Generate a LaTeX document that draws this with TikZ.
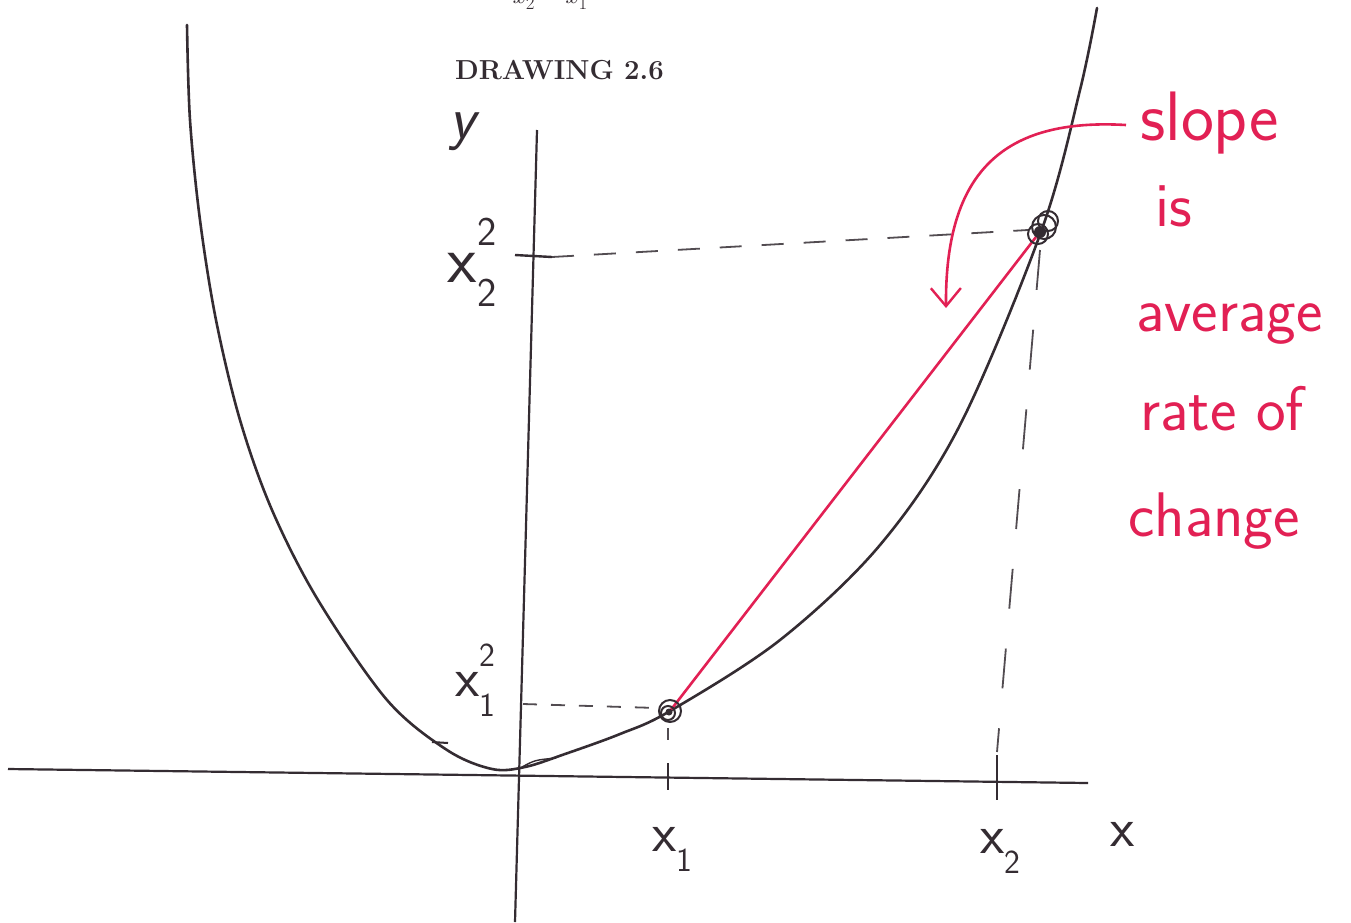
\documentclass[tikz,border=0pt]{standalone}
\usepackage{fontspec}
\usepackage{graphicx}
\usetikzlibrary{arrows.meta}
\definecolor{ink}{RGB}{52,44,50}
\definecolor{redink}{RGB}{226,32,84}
\newcommand{\xlab}[3]{#1\makebox[0pt][l]{\raisebox{0.55em}{\scalebox{0.6}{#2}}}\raisebox{-0.35em}{\scalebox{0.6}{#3}}}
\begin{document}
\begin{tikzpicture}[x=1pt,y=-1pt,
  axis/.style={draw=ink,line width=2.2pt},
  curve/.style={draw=ink,line width=2.6pt,line cap=round,line join=round},
  guide/.style={draw=ink!85,line width=1.8pt,dash pattern=on 22pt off 20pt},
  tickmark/.style={draw=ink,line width=2.4pt},
  hand/.style={text=ink,font=\sffamily\fontsize{56}{56}\selectfont,inner sep=0pt},
  note/.style={text=redink,font=\sffamily\fontsize{63}{63}\selectfont,inner sep=0pt,anchor=base west},
  chord/.style={draw=redink,line width=2.6pt},
  dot/.style={draw=ink,line width=2pt}]
\useasboundingbox (0,0) rectangle (1351,922);
\fill[white] (0,0) rectangle (1351,922);
\begin{scope}
\clip (0,0) rectangle (1351,922);
% cut-off denominator at the top
\node[anchor=base west,inner sep=0pt,text=ink,font=\fontsize{27}{27}\selectfont] (den) at (512,3)
  {\textit{x}\raisebox{-0.25em}{\scalebox{0.7}{2}}\,\,--\,\,\textit{x}\raisebox{-0.25em}{\scalebox{0.7}{1}}};
\end{scope}
\node[anchor=base west,inner sep=0pt,text=ink,font=\bfseries\fontsize{27.5}{27.5}\selectfont] (title) at (455,79) {DRAWING 2.6};

% key coordinates
\coordinate (xl) at (8,769);
\coordinate (xr) at (1088,783);
\coordinate (yt) at (537,130);
\coordinate (yb) at (515,922);
\coordinate (P1) at (670,711);
\coordinate (P2) at (1042,229);

% axes
\draw[axis] (xl) -- (xr);
\draw[axis] (yt) -- (yb);

% parabola
\draw[curve] plot[smooth,tension=0.55] coordinates {(187,25) (190,120) (200,220) (216,320) (240,420) (272,510) (318,600) (387,700) (447,750) (492,769) (525,767) (565,754) (620,734) (P1) (780,640) (880,545) (960,425) (P2) (1080,90) (1097,8)};
\draw[ink,line width=2pt] (432,742) -- (448,743);
\draw[ink,line width=1.4pt] (522,767) .. controls (535,760) .. (556,758);

% guide lines
\coordinate (hy2) at (552,257);
\coordinate (hx2) at (1028,230);
\draw[guide] (hy2) -- (hx2);
\coordinate (hy1) at (523,704);
\coordinate (hx1) at (658,708);
\draw[guide,dash pattern=on 14pt off 14pt] (hy1) -- (hx1);
\coordinate (vx2) at (1040,250);
\coordinate (vb2) at (997,752);
\draw[guide,dash pattern=on 40pt off 40pt] (vx2) -- (vb2);
\coordinate (vx1) at (668,728);
\coordinate (vb1) at (668,740);
\draw[guide] (vx1) -- (vb1);

% ticks
\draw[tickmark] (515,255) -- (552,257);
\draw[tickmark] (668,763) -- (668,790);
\draw[tickmark] (997,755) -- (997,800);

% chord
\draw[chord] (P1) -- ([shift={(-6,8)}]P2);

% point scribbles
\draw[dot] (P1) circle (11);
\draw[dot] ([shift={(-2,2)}]P1) circle (7);
\fill[ink] ([shift={(-1,1)}]P1) circle (3.5);
\draw[dot] ([shift={(2,-2)}]P2) circle (12);
\draw[dot] ([shift={(6,-8)}]P2) circle (10);
\draw[dot] ([shift={(-4,5)}]P2) circle (10);
\fill[ink] ([shift={(-2,3)}]P2) circle (6);

% curved red arrow
\coordinate (nt) at (1126,125);
\coordinate (tip) at (946,308);
\draw[redink,line width=2.6pt,-{Straight Barb[length=18pt,width=30pt,line width=2.4pt]}] (nt) .. controls (1005,118) and (945,170) .. (tip);

% labels
\node[hand,font=\sffamily\itshape\fontsize{60}{60}\selectfont] (ylab) at (462,132) {y};
\node[hand,font=\sffamily\fontsize{68}{68}\selectfont] (lx22) at (472,262) {\xlab{x}{2}{2}};
\node[hand] (lx12) at (475,680) {\xlab{x}{2}{1}};
\node[hand] (lx1) at (672,846) {\xlab{x}{}{1}};
\node[hand] (lx2) at (1000,848) {\xlab{x}{}{2}};
\node[hand] (lx) at (1123,834) {x};

% red notes
\node[note,font=\sffamily\fontsize{70}{70}\selectfont] (n1) at (1140,140) {slope};
\node[note] (n2) at (1155,226) {is};
\node[note] (n3) at (1136,331) {average};
\node[note] (n4) at (1140,430) {rate of};
\node[note] (n5) at (1128,536) {change};
\end{tikzpicture}
\end{document}
